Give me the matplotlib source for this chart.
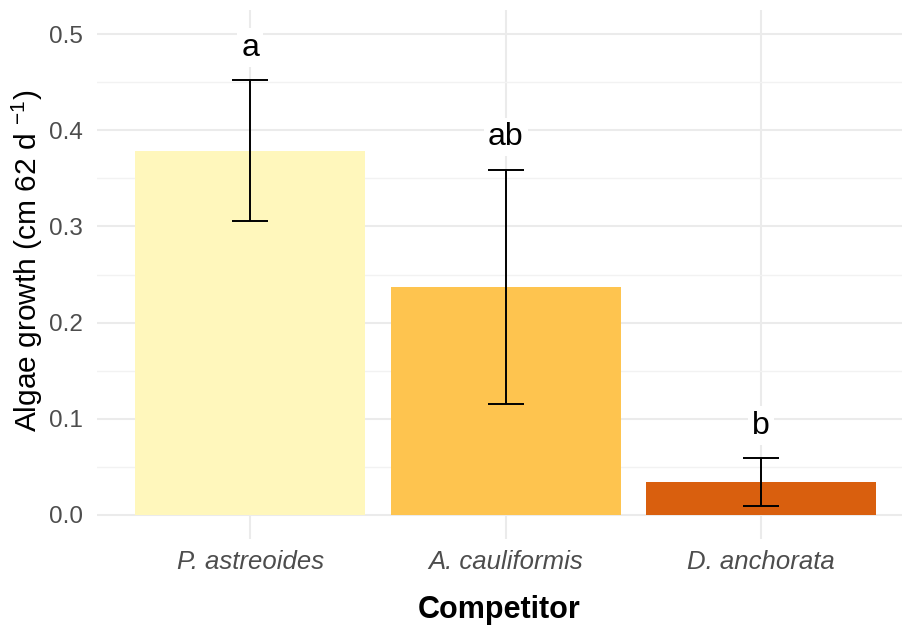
import matplotlib
matplotlib.use("Agg")
import matplotlib.pyplot as plt
from matplotlib.ticker import MultipleLocator

plt.rcParams['font.family'] = ['Liberation Sans', 'DejaVu Sans']
plt.rcParams['mathtext.fontset'] = 'custom'
plt.rcParams['mathtext.rm'] = 'Liberation Sans'

competitors = ['P. astreoides', 'A. cauliformis', 'D. anchorata']
growth = [0.378, 0.237, 0.034]
err_low = [0.306, 0.115, 0.009]
err_high = [0.452, 0.359, 0.059]
letters = ['a', 'ab', 'b']
bar_colors = ['#FFF7BC', '#FEC44F', '#D95F0E']

fig = plt.figure(figsize=(9.02, 6.31), dpi=100)
ax = fig.add_axes([97 / 902, (631 - 539) / 631, 1 - 97 / 902, 529 / 631])

x = list(range(len(competitors)))
ax.bar(x, growth, width=0.9, color=bar_colors, zorder=2)

yerr = [[g - lo for g, lo in zip(growth, err_low)],
        [hi - g for g, hi in zip(growth, err_high)]]
ax.errorbar(x, growth, yerr=yerr, fmt='none', ecolor='black',
            elinewidth=1.4, capsize=13, capthick=1.4, zorder=3)

# significance letters sit just above each error bar
for xi, hi, lab in zip(x, err_high, letters):
    ax.text(xi, hi + 0.034, lab, ha='center', va='center', fontsize=23,
            color='black', zorder=4,
            bbox=dict(facecolor='white', edgecolor='none', pad=3))

ax.set_xlim(-0.6, 2.552)
ax.set_ylim(-0.025, 0.525)
ax.set_xticks(x)
ax.set_xticklabels(competitors, fontstyle='italic')
ax.yaxis.set_major_locator(MultipleLocator(0.1))
ax.yaxis.set_minor_locator(MultipleLocator(0.05))
ax.yaxis.set_major_formatter(matplotlib.ticker.FormatStrFormatter('%.1f'))

ax.grid(which='major', color='#EBEBEB', linewidth=1.5, zorder=0)
ax.grid(which='minor', axis='y', color='#F2F2F2', linewidth=1.0, zorder=0)
ax.set_axisbelow(True)
for s in ax.spines.values():
    s.set_visible(False)
ax.tick_params(which='both', length=0, labelcolor='#4D4D4D')
ax.tick_params(axis='x', pad=8, labelsize=18.5)
ax.tick_params(axis='y', pad=10, labelsize=17.5)

ax.set_ylabel('Algae growth (cm 62 d $^{-1}$)', fontsize=21.5, va='center')
ax.yaxis.set_label_coords(-0.087, 0.525)
ax.set_xlabel('Competitor', fontsize=22, fontweight='bold', labelpad=15)

fig.savefig('out.png', dpi=100, facecolor='white')
